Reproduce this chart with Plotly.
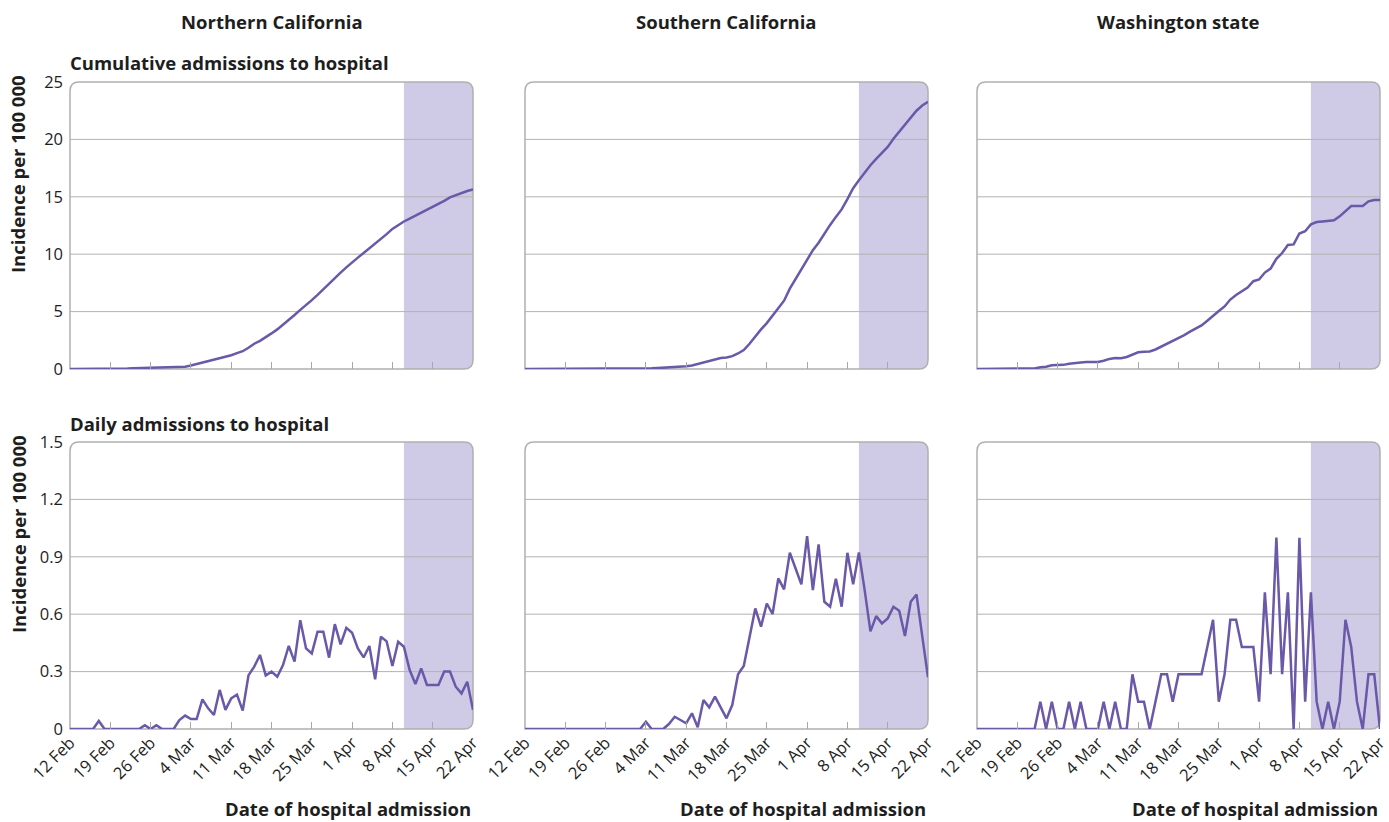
import pandas as pd
import plotly.graph_objects as go
from plotly.subplots import make_subplots

# ---- data -------------------------------------------------------------
dates = pd.date_range("2020-02-12", "2020-04-22", freq="D")

regions = ["Northern California", "Southern California", "Washington state"]

cum_north = [0, 0, 0, 0, 0, 0, 0, 0, 0, 0.02,
             0.05, 0.07, 0.09, 0.11, 0.12, 0.13, 0.14, 0.15, 0.16, 0.18,
             0.2, 0.3, 0.42, 0.55, 0.67, 0.78, 0.9, 1.05, 1.2, 1.38,
             1.55, 1.85, 2.2, 2.45, 2.75, 3.1, 3.45, 3.85, 4.25, 4.7,
             5.15, 5.55, 6.0, 6.45, 6.95, 7.45, 7.9, 8.4, 8.85, 9.3,
             9.7, 10.1, 10.5, 10.9, 11.3, 11.75, 12.2, 12.55, 12.85, 13.1,
             13.35, 13.6, 13.85, 14.1, 14.35, 14.65, 14.95, 15.15, 15.35, 15.5,
             15.65]

cum_south = [0, 0, 0, 0, 0, 0, 0, 0, 0, 0,
             0, 0, 0, 0, 0, 0, 0, 0, 0, 0,
             0.02, 0.05, 0.06, 0.08, 0.1, 0.13, 0.17, 0.2, 0.23, 0.3,
             0.42, 0.55, 0.68, 0.82, 0.95, 1.0, 1.12, 1.35, 1.65, 2.2,
             2.85, 3.45, 4.0, 4.65, 5.3, 5.95, 7.0, 7.85, 8.65, 9.5,
             10.35, 11.0, 11.8, 12.55, 13.25, 13.9, 14.8, 15.75, 16.45, 17.15,
             17.75, 18.3, 18.8, 19.35, 20.05, 20.65, 21.25, 21.85, 22.5, 22.95,
             23.27]

cum_wash = [0, 0, 0, 0, 0, 0, 0, 0, 0, 0,
            0.05, 0.15, 0.2, 0.33, 0.35, 0.36, 0.45, 0.53, 0.57, 0.6,
            0.6, 0.62, 0.72, 0.88, 0.95, 0.93, 1.05, 1.25, 1.45, 1.5,
            1.52, 1.7, 1.95, 2.15, 2.4, 2.65, 2.95, 3.25, 3.5, 3.8,
            4.2, 4.65, 5.05, 5.45, 6.05, 6.45, 6.8, 7.1, 7.65, 7.8,
            8.4, 8.75, 9.6, 10.1, 10.8, 10.85, 11.8, 12.0, 12.6, 12.8,
            12.85, 12.9, 12.95, 13.3, 13.75, 14.2, 14.2, 14.2, 14.6, 14.72,
            14.72]

daily_north = [0, 0, 0, 0, 0, 0.042, 0, 0, 0, 0,
               0, 0, 0, 0.02, 0, 0.02, 0, 0, 0, 0.047,
               0.07, 0.052, 0.052, 0.155, 0.108, 0.073, 0.204, 0.1, 0.16, 0.18,
               0.096, 0.28, 0.326, 0.387, 0.28, 0.3, 0.273, 0.334, 0.434, 0.352,
               0.569, 0.421, 0.395, 0.508, 0.508, 0.373, 0.548, 0.442, 0.529, 0.503,
               0.421, 0.374, 0.434, 0.26, 0.482, 0.458, 0.329, 0.456, 0.43, 0.308,
               0.235, 0.317, 0.23, 0.23, 0.23, 0.3, 0.3, 0.221, 0.186, 0.247,
               0.1]

daily_south = [0, 0, 0, 0, 0, 0, 0, 0, 0, 0,
               0, 0, 0, 0, 0, 0, 0, 0, 0, 0,
               0, 0.038, 0, 0, 0, 0.026, 0.064, 0.047, 0.03, 0.082,
               0.009, 0.151, 0.113, 0.169, 0.113, 0.056, 0.125, 0.286, 0.329, 0.482,
               0.63, 0.535, 0.656, 0.601, 0.787, 0.73, 0.921, 0.839, 0.756, 1.008,
               0.726, 0.965, 0.665, 0.639, 0.785, 0.639, 0.921, 0.756, 0.923, 0.726,
               0.51, 0.59, 0.552, 0.578, 0.639, 0.618, 0.486, 0.665, 0.703, 0.485,
               0.27]

daily_wash = [0, 0, 0, 0, 0, 0, 0, 0, 0, 0,
              0, 0.143, 0, 0.143, 0, 0, 0.143, 0, 0.143, 0,
              0, 0, 0.143, 0, 0.143, 0, 0, 0.286, 0.143, 0.143,
              0, 0.143, 0.286, 0.286, 0.143, 0.286, 0.286, 0.286, 0.286, 0.286,
              0.429, 0.571, 0.143, 0.286, 0.571, 0.571, 0.429, 0.429, 0.429, 0.143,
              0.714, 0.286, 1.0, 0.286, 0.714, 0, 1.0, 0.143, 0.714, 0.143,
              0, 0.143, 0, 0.143, 0.571, 0.429, 0.143, 0, 0.286, 0.286,
              0]

cumulative = [cum_north, cum_south, cum_wash]
daily = [daily_north, daily_south, daily_wash]

tick_dates = pd.date_range("2020-02-12", "2020-04-22", freq="7D")
tick_labels = ["12 Feb", "19 Feb", "26 Feb", "4 Mar", "11 Mar", "18 Mar",
               "25 Mar", "1 Apr", "8 Apr", "15 Apr", "22 Apr"]

cum_ticks = [0, 5, 10, 15, 20, 25]
cum_labels = ["0", "5", "10", "15", "20", "25"]
daily_ticks = [0, 0.3, 0.6, 0.9, 1.2, 1.5]
daily_labels = ["0", "0.3", "0.6", "0.9", "1.2", "1.5"]

shade_start = "2020-04-10"
x_range = ["2020-02-12", "2020-04-22"]

# ---- styling / layout constants (pixels) -----------------------------
W, H = 1389, 822
LINE = "#6a58a8"
SHADE = "#cfcbe6"
GRID = "#b3b3b3"
FRAME = "#b0b0b0"
TEXT = "#1e1e1e"
FONT = "Open Sans"
TITLE_SIZE = 18.5
TICK_SIZE = 16.5

col_px = [(70, 473), (525, 928), (977, 1380)]
row_px = [(82, 369), (442, 729)]
R = 9  # corner radius


def fx(px):
    return px / W


def fy(py):
    return 1 - py / H


fig = make_subplots(rows=2, cols=3)

for c in range(3):
    fig.add_trace(go.Scatter(x=dates, y=cumulative[c], mode="lines",
                             line=dict(color=LINE, width=2.5),
                             showlegend=False, hoverinfo="skip"),
                  row=1, col=c + 1)
    fig.add_trace(go.Scatter(x=dates, y=daily[c], mode="lines",
                             line=dict(color=LINE, width=2.5),
                             showlegend=False, hoverinfo="skip"),
                  row=2, col=c + 1)

for r in range(2):
    yticks = cum_ticks if r == 0 else daily_ticks
    for c in range(3):
        idx = r * 3 + c + 1
        xs = "" if idx == 1 else str(idx)
        L, Rr = col_px[c]
        T, B = row_px[r]
        fig.layout["xaxis" + xs].update(
            domain=[fx(L), fx(Rr)], range=x_range, type="date",
            tickvals=list(tick_dates), ticktext=tick_labels,
            ticks="inside", ticklen=7, tickcolor="#a8a8a8", tickwidth=1,
            showticklabels=(r == 1), tickangle=-45, automargin=False,
            ticklabeloverflow="allow",
            tickfont=dict(family=FONT, size=TICK_SIZE, color=TEXT),
            showgrid=False, showline=False, zeroline=False, fixedrange=True)
        fig.layout["yaxis" + xs].update(
            domain=[fy(B), fy(T)],
            range=[yticks[0], yticks[-1]],
            tickvals=yticks,
            ticktext=cum_labels if r == 0 else daily_labels,
            showticklabels=(c == 0), ticks="", automargin=False,
            ticklabelstandoff=6, ticklabeloverflow="allow",
            tickfont=dict(family=FONT, size=TICK_SIZE, color=TEXT),
            showgrid=False, showline=False, zeroline=False, fixedrange=True)

        # shaded period at the end of the series
        fig.add_shape(type="rect", xref="x" + xs, yref="y" + xs + " domain",
                      x0=shade_start, x1=x_range[1], y0=0, y1=1,
                      fillcolor=SHADE, line=dict(width=0), layer="below")

        # horizontal gridlines drawn over the shading
        for v in yticks[1:-1]:
            fig.add_shape(type="line", xref="paper", yref="y" + xs,
                          x0=fx(L), x1=fx(Rr), y0=v, y1=v,
                          line=dict(color=GRID, width=1), layer="below")

        l, rr, t, b = fx(L), fx(Rr), fy(T), fy(B)
        rx, ry = R / W, R / H
        # white masks for the rounded corners (top-left, top-right, bottom-right)
        masks = [
            f"M {l},{t - ry} L {l},{t} L {l + rx},{t} Q {l},{t} {l},{t - ry} Z",
            f"M {rr - rx},{t} L {rr},{t} L {rr},{t - ry} Q {rr},{t} {rr - rx},{t} Z",
            f"M {rr},{b + ry} L {rr},{b} L {rr - rx},{b} Q {rr},{b} {rr},{b + ry} Z",
        ]
        for m in masks:
            fig.add_shape(type="path", xref="paper", yref="paper", path=m,
                          fillcolor="white", line=dict(width=0), layer="below")
        # rounded panel frame
        frame = (f"M {l},{b} L {l},{t - ry} Q {l},{t} {l + rx},{t} "
                 f"L {rr - rx},{t} Q {rr},{t} {rr},{t - ry} "
                 f"L {rr},{b + ry} Q {rr},{b} {rr - rx},{b} Z")
        fig.add_shape(type="path", xref="paper", yref="paper", path=frame,
                      line=dict(color=FRAME, width=1.5), layer="below")

annotations = []
for c, name in enumerate(regions):
    L, Rr = col_px[c]
    annotations.append(dict(text=f"<b>{name}</b>", x=fx((L + Rr) / 2), y=fy(22),
                            xref="paper", yref="paper",
                            xanchor="center", yanchor="middle", showarrow=False,
                            font=dict(family=FONT, size=TITLE_SIZE, color=TEXT)))
    annotations.append(dict(text="<b>Date of hospital admission</b>", x=fx(Rr),
                            y=fy(808), xref="paper", yref="paper",
                            xanchor="right", yanchor="middle", showarrow=False,
                            font=dict(family=FONT, size=TITLE_SIZE, color=TEXT)))

for text, py in [("Cumulative admissions to hospital", 62),
                 ("Daily admissions to hospital", 423)]:
    annotations.append(dict(text=f"<b>{text}</b>", x=fx(68), y=fy(py),
                            xref="paper", yref="paper",
                            xanchor="left", yanchor="middle", showarrow=False,
                            font=dict(family=FONT, size=TITLE_SIZE, color=TEXT)))

for py in [73, 433]:
    annotations.append(dict(text="<b>Incidence per 100 000</b>", x=fx(18), y=fy(py),
                            xref="paper", yref="paper",
                            xanchor="center", yanchor="top", textangle=-90,
                            showarrow=False,
                            font=dict(family=FONT, size=TITLE_SIZE, color=TEXT)))

fig.update_layout(width=W, height=H, margin=dict(l=0, r=0, t=0, b=0),
                  paper_bgcolor="white", plot_bgcolor="white",
                  annotations=annotations, showlegend=False,
                  font=dict(family=FONT, color=TEXT))

fig.write_html("out.html", config={"displayModeBar": False})
